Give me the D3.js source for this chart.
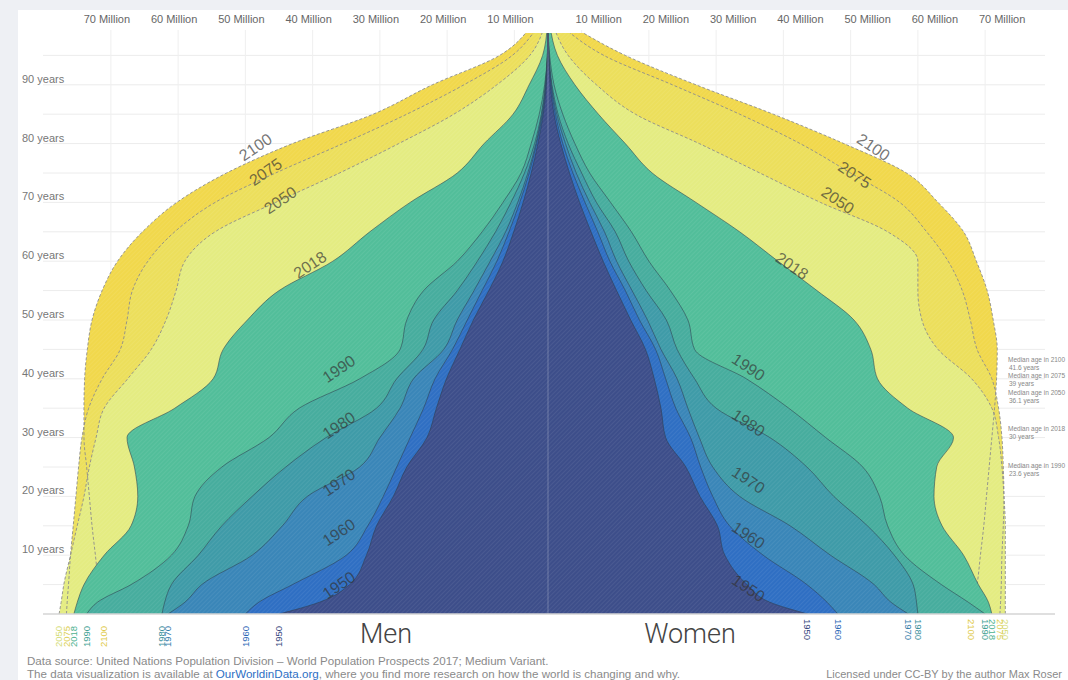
<!DOCTYPE html>
<html>
<head>
<meta charset="utf-8">
<script src="https://cdn.jsdelivr.net/npm/d3@7"></script>
<style>
  body { margin: 0; background: #eef0f4; }
  svg { display: block; font-family: "Liberation Sans", Arial, sans-serif; }
</style>
</head>
<body>
<svg id="chart" width="1068" height="680"></svg>
<script>
var ages = [0, 2, 5, 10, 15, 20, 25, 30, 35, 40, 45, 50, 55, 60, 65, 70, 75, 80, 85, 90, 95, 100];

var years = [1950, 1960, 1970, 1980, 1990, 2018, 2050, 2075, 2100];

// men, millions per single year of age
var men1950 = [40, 34, 29.5, 27, 25.5, 23, 21, 18, 16.6, 15.1, 13.1, 11.1, 8.8, 6.7, 5.1, 3.7, 2.5, 1.5, 0.7, 0.25, 0.05, 0];
var men1960 = [45, 43, 38, 30, 26.8, 24.5, 22.5, 20.5, 18.5, 16.8, 14.2, 12, 9.8, 7.6, 5.8, 4.2, 2.8, 1.7, 0.8, 0.3, 0.06, 0];
var men1970 = [56.5, 54, 51.5, 44, 39.5, 35.8, 28, 25, 22, 20, 15.5, 13.5, 11, 8.6, 6.3, 4.5, 3, 1.8, 0.9, 0.35, 0.08, 0];
var men1980 = [57.4, 57, 56, 52, 48.5, 44, 39, 33, 25.5, 22.5, 18.6, 17, 13.5, 10.5, 7.8, 5.5, 3.5, 2, 1, 0.4, 0.1, 0];
var men1990 = [68.6, 67, 62, 56, 53.5, 52.5, 48.5, 41.5, 37, 28, 22, 21, 18.5, 13.5, 9.8, 6.7, 4, 2.5, 1.3, 0.5, 0.1, 0];
var men2018 = [70.5, 70, 69, 66, 62, 61, 61.5, 62.6, 55.5, 49.8, 48.3, 44.7, 40, 32, 26.5, 20.5, 13.5, 9.5, 5.2, 2.8, 0.8, 0.1];
var men2050 = [72.7, 72.4, 72, 71, 70, 69, 68.2, 67.2, 66, 62.5, 59, 56.8, 55.3, 54, 49.5, 40.5, 31, 22.2, 14, 7.6, 2.7, 0.5];
var men2075 = [71.6, 71.5, 71.3, 71, 70.6, 70.2, 69.8, 69.3, 68.3, 66.3, 63.6, 62.6, 61.8, 59.5, 55.5, 49.5, 40.5, 30.5, 21, 12.5, 5.3, 1.5];
var men2100 = [66, 66.3, 66.8, 67.3, 67.8, 68.2, 68.6, 69, 69, 68.9, 68.5, 67.8, 66.3, 64, 60.3, 55.2, 47.8, 38, 26, 17.2, 7.2, 2.5];

// women, millions per single year of age
var women1950 = [38.6, 33, 29.6, 26.3, 25.2, 22.6, 20.5, 17.5, 16.8, 15.8, 14.5, 12.3, 10.2, 8.2, 6.4, 4.7, 3.2, 1.9, 0.9, 0.35, 0.08, 0];
var women1960 = [43.1, 41.5, 38.5, 32, 27, 24.5, 22.7, 21.2, 19, 17.5, 16, 13.6, 11.5, 9.2, 7.4, 5.5, 3.7, 2.2, 1.1, 0.45, 0.1, 0];
var women1970 = [53.6, 51, 48.5, 42, 36, 28.5, 24.5, 22.5, 20.8, 19.2, 16.8, 14.8, 12.5, 10.2, 8.4, 6.2, 4.2, 2.6, 1.3, 0.5, 0.12, 0];
var women1980 = [55, 54.8, 54.3, 51.5, 47.5, 42.5, 38.5, 33, 25, 21.8, 19.2, 17.6, 14.6, 12, 10, 7.2, 5, 3, 1.5, 0.6, 0.15, 0];
var women1990 = [65, 62.5, 58.5, 53, 50.5, 49.3, 46.8, 41.3, 35.8, 29.5, 21.8, 20.8, 18.2, 15, 12.4, 9.3, 6.2, 4, 2.2, 0.9, 0.25, 0];
var women2018 = [66, 65.5, 64, 61.8, 58.6, 57.4, 57.8, 60.3, 53.5, 49, 48, 45.5, 40, 34.2, 28.5, 22, 15.5, 11.5, 7.5, 4, 1.4, 0.3];
var women2050 = [68, 68, 68, 68, 68, 67.8, 67.5, 67, 66, 63, 58, 55.6, 55, 55, 50.5, 40.5, 31.5, 22.5, 13, 7.2, 3, 0.8];
var women2075 = [67.2, 67.3, 67.4, 67.5, 67.7, 67.8, 67.7, 67.5, 67, 66, 63.8, 62.8, 61.6, 59.5, 56.3, 52.3, 45, 37.5, 28.5, 18.5, 8.3, 2];
var women2100 = [63, 63.3, 63.8, 64.3, 64.8, 65.2, 65.6, 66, 66.4, 66.7, 66.8, 66.2, 65.3, 63.7, 61.8, 58, 53.3, 44, 33.5, 22, 11.5, 3.5];

var menByYear = [men1950, men1960, men1970, men1980, men1990, men2018, men2050, men2075, men2100];
var womenByYear = [women1950, women1960, women1970, women1980, women1990, women2018, women2050, women2075, women2100];

var yearColors = ["#3d4e8a", "#2f6fc3", "#3a86b8", "#3f9ba8", "#47ad9e", "#52be9a", "#e4ec82", "#ecdf5c", "#f1d84c"];
var futureYears = [2050, 2075, 2100];

// where the year labels sit: value (millions) and age
var labelValueMen = [31.1, 31.1, 31.1, 31.1, 31.1, 35.4, 39.8, 42, 43.5];
var labelAgeMen = [4.9, 13.9, 22.4, 32.1, 41.7, 59.4, 70.4, 75.2, 79.4];
var labelValueWomen = [29.8, 29.8, 29.8, 29.8, 29.8, 36.3, 43.1, 45.6, 48.4];
var labelAgeWomen = [4.4, 13.4, 22.8, 32.5, 42, 59.2, 70.4, 74.7, 79.4];

var populationTicks = [10, 20, 30, 40, 50, 60, 70];
var ageTicks = [10, 20, 30, 40, 50, 60, 70, 80, 90];
var gridAges = [5, 10, 15, 20, 25, 30, 35, 40, 45, 50, 55, 60, 65, 70, 75, 80, 85, 90, 95];

var medianYears = [2100, 2075, 2050, 2018, 1990];
var medianAges = [41.6, 39, 36.1, 30, 23.6];

var svg = d3.select("#chart");
var cx = 548;

var x = d3.scaleLinear().domain([0, 80]).range([0, 538]);
var y = d3.scaleLinear().domain([0, 100]).range([614, 26]);

var defs = svg.append("defs");
defs.append("clipPath").attr("id", "plotClip")
  .append("rect").attr("x", 30).attr("y", 33).attr("width", 1030).attr("height", y(0) - 33);

var hatch = defs.append("pattern")
  .attr("id", "hatch")
  .attr("width", 3).attr("height", 3)
  .attr("patternUnits", "userSpaceOnUse")
  .attr("patternTransform", "rotate(45)");
hatch.append("line")
  .attr("x1", 0).attr("y1", 0).attr("x2", 0).attr("y2", 3)
  .attr("stroke", "#fff").attr("stroke-opacity", 0.13).attr("stroke-width", 1);

// card
svg.append("rect").attr("x", 18).attr("y", 10).attr("width", 1050).attr("height", 670).attr("fill", "#fff");

// grid
var grid = svg.append("g");
grid.selectAll(".hgrid")
  .data(gridAges)
  .enter().append("line")
  .attr("x1", 43).attr("x2", 1045)
  .attr("y1", function(d) { return y(d); })
  .attr("y2", function(d) { return y(d); })
  .attr("stroke", "#ececec");

// vertical gridlines fall half way between the million labels
populationTicks.forEach(function(v) {
  [-1, 1].forEach(function(side) {
    grid.append("line")
      .attr("x1", cx + side * x(v - 5)).attr("x2", cx + side * x(v - 5))
      .attr("y1", 30).attr("y2", y(0))
      .attr("stroke", "#efefef");
  });
});

function points(vals) {
  return ages.map(function(a, i) { return { age: a, v: vals[i] }; });
}

function areaFor(side) {
  return d3.area()
    .curve(d3.curveMonotoneY)
    .y(function(d) { return y(d.age); })
    .x0(cx)
    .x1(function(d) { return cx + side * x(d.v); });
}
function lineFor(side) {
  return d3.line()
    .curve(d3.curveMonotoneY)
    .y(function(d) { return y(d.age); })
    .x(function(d) { return cx + side * x(d.v); });
}

var plot = svg.append("g").attr("clip-path", "url(#plotClip)");

function drawYear(i) {
  [[-1, menByYear[i]], [1, womenByYear[i]]].forEach(function(s) {
    var p = points(s[1]);
    plot.append("path").attr("d", areaFor(s[0])(p)).attr("fill", yearColors[i]);
    plot.append("path").attr("d", areaFor(s[0])(p)).attr("fill", "url(#hatch)");
  });
}
function drawOutline(i) {
  var isFuture = futureYears.indexOf(years[i]) > -1;
  [[-1, menByYear[i]], [1, womenByYear[i]]].forEach(function(s) {
    plot.append("path")
      .attr("d", lineFor(s[0])(points(s[1])))
      .attr("fill", "none")
      .attr("stroke", isFuture ? "#8d8d8d" : "#2e3d4c")
      .attr("stroke-opacity", isFuture ? 0.9 : 0.55)
      .attr("stroke-width", 1)
      .attr("stroke-dasharray", isFuture ? "3,2" : null);
  });
}

// projections first (their dashed outlines stay visible on top of each other)
for (var i = years.length - 1; i >= 6; i--) drawYear(i);
for (var i = years.length - 1; i >= 6; i--) drawOutline(i);
for (var i = 5; i >= 0; i--) { drawYear(i); drawOutline(i); }

// centre axis
plot.append("line")
  .attr("x1", cx).attr("x2", cx).attr("y1", 33).attr("y2", y(0))
  .attr("stroke", "#fff").attr("stroke-opacity", 0.25);

// baseline
svg.append("line")
  .attr("x1", 43).attr("x2", 1055).attr("y1", y(0)).attr("y2", y(0))
  .attr("stroke", "#d4d4d4").attr("stroke-width", 1.5);

// year labels along the outlines
years.forEach(function(yr, i) {
  svg.append("text")
    .attr("transform", "translate(" + (cx - x(labelValueMen[i])) + "," + y(labelAgeMen[i]) + ") rotate(-34)")
    .attr("text-anchor", "middle").attr("dy", "0.35em")
    .attr("font-size", 16).attr("fill", "#333").attr("fill-opacity", 0.68)
    .text(yr);
  svg.append("text")
    .attr("transform", "translate(" + (cx + x(labelValueWomen[i])) + "," + y(labelAgeWomen[i]) + ") rotate(34)")
    .attr("text-anchor", "middle").attr("dy", "0.35em")
    .attr("font-size", 16).attr("fill", "#333").attr("fill-opacity", 0.68)
    .text(yr);
});

// population labels on top
populationTicks.forEach(function(v) {
  svg.append("text")
    .attr("x", cx - x(v - 5) - 4).attr("y", 23)
    .attr("text-anchor", "middle").attr("font-size", 11).attr("fill", "#666")
    .text(v + " Million");
  svg.append("text")
    .attr("x", cx + x(v - 5) + 17).attr("y", 23)
    .attr("text-anchor", "middle").attr("font-size", 11).attr("fill", "#666")
    .text(v + " Million");
});

// age labels
svg.selectAll(".agelab")
  .data(ageTicks)
  .enter().append("text")
  .attr("x", 22)
  .attr("y", function(d) { return y(d) - 2; })
  .attr("font-size", 11).attr("fill", "#777")
  .text(function(d) { return d + " years"; });

// year markers under the baseline, at the age-0 value of each year
years.forEach(function(yr, i) {
  var c = d3.color(yearColors[i]).darker(0.2);
  svg.append("text")
    .attr("transform", "translate(" + (cx - x(menByYear[i][0])) + ",647) rotate(-90)")
    .attr("dy", "0.35em").attr("font-size", 9.5).attr("fill", c)
    .text(yr);
  svg.append("text")
    .attr("transform", "translate(" + (cx + x(womenByYear[i][0])) + ",619) rotate(90)")
    .attr("dy", "0.35em").attr("font-size", 9.5).attr("fill", c)
    .text(yr);
});

svg.append("text").attr("x", 386).attr("y", 643).attr("text-anchor", "middle")
  .attr("font-family", "Roboto, sans-serif")
  .attr("font-size", 27).attr("font-weight", 300).attr("fill", "#444").text("Men");
svg.append("text").attr("x", 690).attr("y", 643).attr("text-anchor", "middle")
  .attr("font-family", "Roboto, sans-serif")
  .attr("font-size", 27).attr("font-weight", 300).attr("fill", "#444").text("Women");

// median ages on the right
medianYears.forEach(function(yr, i) {
  var yy = y(medianAges[i]);
  svg.append("text").attr("x", 1008).attr("y", yy - 7)
    .attr("font-size", 6.5).attr("fill", "#888").text("Median age in " + yr);
  svg.append("text").attr("x", 1009).attr("y", yy + 1)
    .attr("font-size", 6.5).attr("fill", "#888").text(medianAges[i] + " years");
});

// footer
svg.append("text").attr("x", 27).attr("y", 665)
  .attr("font-size", 11.6).attr("fill", "#8a8a8a")
  .text("Data source: United Nations Population Division \u2013 World Population Prospects 2017; Medium Variant.");
var f2 = svg.append("text").attr("x", 27).attr("y", 678)
  .attr("font-size", 11.6).attr("fill", "#8a8a8a");
f2.append("tspan").text("The data visualization is available at ");
f2.append("tspan").attr("fill", "#2d6fc4").text("OurWorldinData.org");
f2.append("tspan").text(", where you find more research on how the world is changing and why.");
svg.append("text").attr("x", 1062).attr("y", 678)
  .attr("text-anchor", "end")
  .attr("font-size", 11).attr("fill", "#8a8a8a")
  .text("Licensed under CC-BY by the author Max Roser");
</script>
</body>
</html>
